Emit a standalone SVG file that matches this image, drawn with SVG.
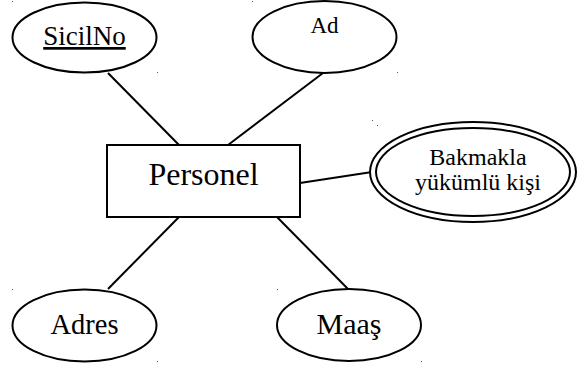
<svg xmlns="http://www.w3.org/2000/svg" width="578" height="367" viewBox="0 0 578 367">
<style>
.s{fill:#fff;stroke:#000;stroke-width:2}
.t{font-family:"Liberation Serif","Times New Roman",serif;fill:#000;text-anchor:middle}
.c{stroke:#000;stroke-width:2;fill:none}
.d{fill:#555}
</style>
<rect width="578" height="367" fill="#fff"/>
<g id="connectors">
<line class="c" x1="108" y1="73" x2="179" y2="145"/>
<line class="c" x1="323" y1="73" x2="228" y2="145"/>
<line class="c" x1="179" y1="217" x2="108" y2="289"/>
<line class="c" x1="277" y1="217" x2="348" y2="289"/>
<line class="c" x1="300" y1="183" x2="372" y2="172"/>
</g>
<g id="dots">
<rect class="d" x="12" y="1" width="1" height="1"/>
<rect class="d" x="157" y="72" width="1" height="1"/>
<rect class="d" x="252" y="1" width="1" height="1"/>
<rect class="d" x="397" y="72" width="1" height="1"/>
<rect class="d" x="372" y="120" width="1" height="1"/>
<rect class="d" x="377" y="125" width="1" height="1"/>
<rect class="d" x="12" y="289" width="1" height="1"/>
<rect class="d" x="157" y="361" width="1" height="1"/>
<rect class="d" x="277" y="289" width="1" height="1"/>
<rect class="d" x="421" y="361" width="1" height="1"/>
</g>
<g id="sicilno">
<ellipse class="s" cx="84.5" cy="37.5" rx="72" ry="35"/>
<text class="t" x="84.5" y="45" font-size="27" text-decoration="underline">SicilNo</text>
</g>
<g id="ad">
<ellipse class="s" cx="324.5" cy="37" rx="72" ry="36"/>
<text class="t" x="324.5" y="33" font-size="23">Ad</text>
</g>
<g id="personel">
<rect class="s" x="107" y="145" width="193" height="72"/>
<text class="t" x="203.5" y="185" font-size="32">Personel</text>
</g>
<g id="bakmakla">
<ellipse class="s" cx="473" cy="172" rx="103" ry="50"/>
<ellipse class="s" cx="473" cy="172" rx="97" ry="44"/>
<text class="t" x="478" y="165" font-size="24">Bakmakla</text>
<text class="t" x="478" y="190" font-size="24">yükümlü kişi</text>
</g>
<g id="adres">
<ellipse class="s" cx="84.5" cy="325.5" rx="72" ry="36"/>
<text class="t" x="84.5" y="334" font-size="28.5">Adres</text>
</g>
<g id="maas">
<ellipse class="s" cx="349" cy="325" rx="72" ry="36"/>
<text class="t" x="349" y="334" font-size="30">Maaş</text>
</g>
</svg>
